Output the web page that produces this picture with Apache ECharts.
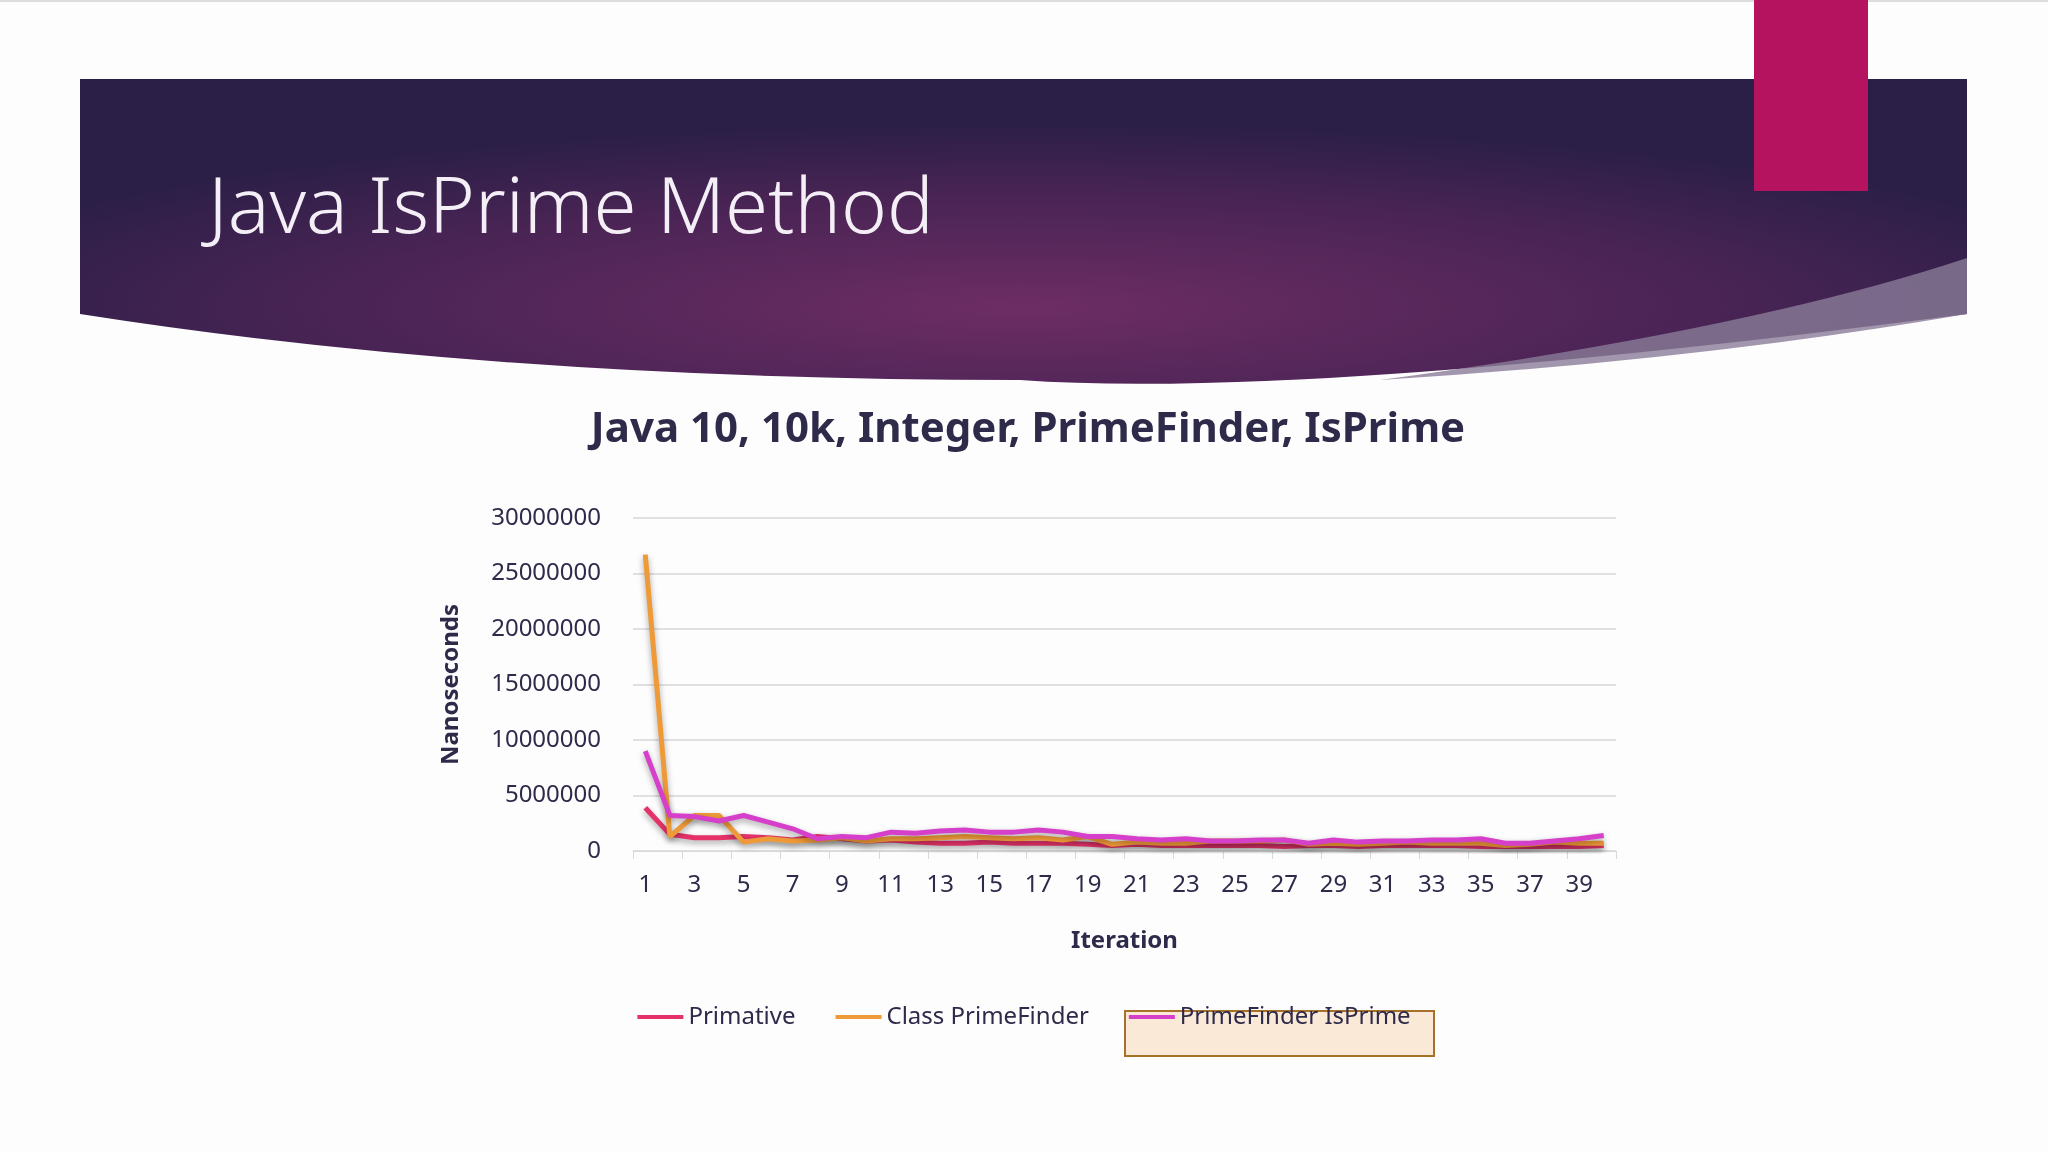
<!DOCTYPE html>
<html><head><meta charset="utf-8">
<script src="https://cdn.jsdelivr.net/npm/echarts@6/dist/echarts.min.js"></script>
<style>
html,body{margin:0;width:2048px;height:1152px;background:#fdfdfd;overflow:hidden;font-family:"Noto Sans",sans-serif}
#bg{position:absolute;left:0;top:0}
#title{position:absolute;left:208px;top:150px;font-size:78px;color:#f4eef6;font-family:"Noto Sans",sans-serif;font-weight:300}
#chart{position:absolute;left:0;top:0;width:2048px;height:1152px}
</style></head><body>
<svg id="bg" width="2048" height="1152">
<defs>
<radialGradient id="g" cx="0.5" cy="0.75" r="0.6">
<stop offset="0" stop-color="#6d2d64"/><stop offset="0.6" stop-color="#4a2455"/><stop offset="1" stop-color="#2c1f47"/>
</radialGradient>
</defs>
<rect x="0" y="0" width="2048" height="2" fill="#ddd"/>
<path d="M80 79 H1967 V314 Q1300 400 1020 380 Q500 380 80 314 Z" fill="url(#g)"/>
<path d="M1380 380 Q1750 330 1967 258 V314 Q1700 360 1380 380 Z" fill="#8a7c99" opacity="0.8"/>
<rect x="1754" y="0" width="114" height="191" fill="#b5135f"/>
</svg>
<div id="title">Java IsPrime Method</div>
<div id="chart"></div>
<script>
var iterations = [];
for (var i = 1; i <= 40; i++) iterations.push(String(i));
var primative = [3900000,1500000,1200000,1200000,1300000,1200000,1000000,1300000,1100000,900000,
  1000000,800000,700000,700000,800000,700000,700000,700000,600000,500000,
  600000,500000,500000,500000,500000,500000,400000,500000,500000,400000,
  500000,500000,500000,500000,400000,400000,400000,400000,400000,500000];
var classPrimeFinder = [26700000,1300000,3200000,3200000,800000,1100000,900000,1000000,1200000,900000,
  1100000,1100000,1200000,1300000,1200000,1100000,1200000,1000000,1300000,600000,
  800000,700000,700000,900000,900000,900000,1000000,600000,700000,600000,
  700000,800000,700000,700000,700000,500000,600000,800000,700000,700000];
var primeFinderIsPrime = [9000000,3200000,3100000,2700000,3200000,2600000,2000000,1100000,1300000,1200000,
  1700000,1600000,1800000,1900000,1700000,1700000,1900000,1700000,1300000,1300000,
  1100000,1000000,1100000,900000,900000,1000000,1000000,700000,1000000,800000,
  900000,900000,1000000,1000000,1100000,700000,700000,900000,1100000,1400000];
var colors = ['#e5336a', '#ee9a38', '#d63fc9'];
var chart = echarts.init(document.getElementById('chart'));
var txt = '#2e2a4a';
var ff = 'Noto Sans';
function ser(name, data, i) {
  return { name: name, type: 'line', data: data, symbol: 'none', smooth: false,
    lineStyle: { width: 5, color: colors[i], shadowColor: 'rgba(0,0,0,0.35)', shadowBlur: 6, shadowOffsetY: 3 },
    itemStyle: { color: colors[i] } };
}
chart.setOption({
  backgroundColor: 'transparent',
  textStyle: { fontFamily: ff },
  title: { text: 'Java 10, 10k, Integer, PrimeFinder, IsPrime', left: 1023, top: 404, textAlign: 'center',
    textStyle: { fontSize: 42, fontWeight: 'bold', color: txt, fontFamily: ff } },
  graphic: [{ type: 'rect', left: 1124, top: 1010, shape: { width: 309, height: 45 }, z: -1,
    style: { fill: '#fbe9d8', stroke: '#a6722a', lineWidth: 2 } }],
  grid: { left: 633, right: 432, top: 518, height: 333 },
  legend: { top: 1000, left: 'center', itemWidth: 46, itemHeight: 4, itemGap: 40, icon: 'rect',
    textStyle: { fontSize: 24, color: txt, fontFamily: ff } },
  xAxis: { type: 'category', data: iterations, boundaryGap: true, name: 'Iteration', nameLocation: 'middle', nameGap: 78,
    nameTextStyle: { fontSize: 24, fontWeight: 'bold', color: txt, fontFamily: ff },
    axisLine: { lineStyle: { color: '#d9d9d9' } }, axisTick: { show: true, lineStyle: { color: '#d9d9d9' }, length: 8 },
    axisLabel: { interval: 1, fontSize: 24, color: txt, margin: 22, fontFamily: ff } },
  yAxis: { type: 'value', min: 0, max: 30000000, interval: 5000000, name: 'Nanoseconds', nameLocation: 'middle', nameGap: 170,
    nameTextStyle: { fontSize: 24, fontWeight: 'bold', color: txt, fontFamily: ff },
    axisLabel: { fontSize: 24, color: txt, margin: 32, fontFamily: ff, padding: [0, 0, 20, 0], formatter: function (v) { return String(v); } },
    splitLine: { lineStyle: { color: '#e0e0e0', width: 2 } } },
  series: [ser('Primative', primative, 0), ser('Class PrimeFinder', classPrimeFinder, 1), ser('PrimeFinder IsPrime', primeFinderIsPrime, 2)]
});
</script>
</body></html>
